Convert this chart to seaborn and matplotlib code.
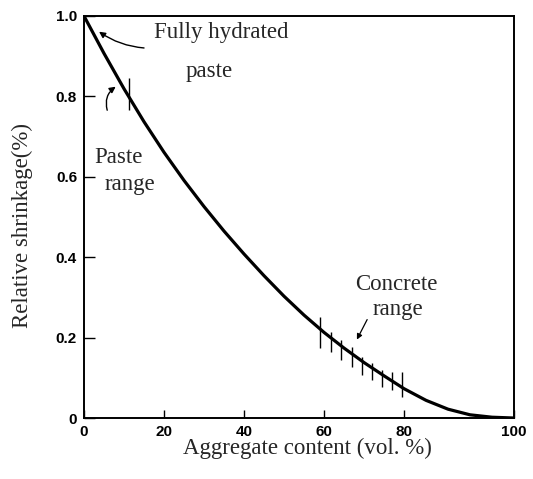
import numpy as np
import pandas as pd
import seaborn as sns
import matplotlib.pyplot as plt

# curve (aggregate vol. % -> relative shrinkage)
aggregate = [0, 5, 10, 15, 20, 25, 30, 35, 40, 45, 50, 55, 60, 65, 70, 75, 80, 84, 88, 92, 96, 100]
shrinkage = [1.000, 0.907, 0.819, 0.737, 0.661, 0.591, 0.526, 0.465, 0.408, 0.354, 0.303, 0.256,
             0.213, 0.174, 0.138, 0.105, 0.073, 0.044, 0.022, 0.008, 0.002, 0.000]

# vertical marks of the concrete range
concrete_x = [59.0, 61.7, 64.2, 66.9, 69.4, 71.9, 74.4, 76.9, 79.6]
concrete_lo = [0.174, 0.164, 0.144, 0.127, 0.107, 0.095, 0.077, 0.070, 0.052]
concrete_hi = [0.251, 0.214, 0.194, 0.177, 0.152, 0.137, 0.119, 0.114, 0.114]

# vertical mark of the paste range
paste_x = [11.2]
paste_lo = [0.766]
paste_hi = [0.846]

x_ticks = [0, 20, 40, 60, 80, 100]
y_ticks = [0, 0.2, 0.4, 0.6, 0.8, 1.0]
y_ticklabels = ['0', '0.2', '0.4', '0.6', '0.8', '1.0']


# the printed axis is stretched between 80 and 100
def fwd(x):
    x = np.asarray(x, dtype=float)
    return np.where(x <= 80, x, 80 + (x - 80) * 1.375)


def inv(s):
    s = np.asarray(s, dtype=float)
    return np.where(s <= 80, s, 80 + (s - 80) / 1.375)


def main():
    sns.set_style('ticks')
    serif = ['Liberation Serif', 'DejaVu Serif']
    sans = ['Liberation Sans', 'DejaVu Sans']

    fig = plt.figure(figsize=(5.33, 4.79), dpi=100)
    ax = fig.add_axes([0.1576, 0.1273, 0.8068, 0.8393])
    ax.set_xscale('function', functions=(fwd, inv))

    df = pd.DataFrame({'aggregate': aggregate, 'shrinkage': shrinkage})
    sns.lineplot(data=df, x='aggregate', y='shrinkage', color='black', lw=2.3, ax=ax)

    ax.vlines(concrete_x, concrete_lo, concrete_hi, color='black', lw=1.0)
    ax.vlines(paste_x, paste_lo, paste_hi, color='black', lw=1.0)

    ax.set_xlim(0, 100)
    ax.set_ylim(0, 1.0)
    ax.set_xticks(x_ticks)
    ax.set_xticklabels([str(t) for t in x_ticks], family=sans, fontweight='bold', fontsize=11)
    ax.set_yticks(y_ticks)
    ax.set_yticklabels(y_ticklabels, family=sans, fontweight='bold', fontsize=11)
    ax.tick_params(axis='x', direction='in', length=6, width=1.0, pad=5, colors='black')
    ax.tick_params(axis='y', direction='in', length=8, width=1.0, pad=5, colors='black')
    for s in ax.spines.values():
        s.set_linewidth(1.4)
        s.set_color('black')

    ax.set_xlabel('Aggregate content (vol. %)', family=serif, fontsize=16.5)
    ax.set_ylabel('Relative shrinkage(%)', family=serif, fontsize=16.5)
    ax.xaxis.set_label_coords(0.519, -0.05)
    ax.yaxis.set_label_coords(-0.118, 0.478)

    # annotations
    fs = 16.5
    ax.text(34.3, 0.958, 'Fully hydrated', family=serif, fontsize=fs, ha='center', va='center')
    ax.text(31.3, 0.861, 'paste', family=serif, fontsize=fs, ha='center', va='center')
    ax.annotate('', xy=(3.2, 0.965), xytext=(15.7, 0.920),
                arrowprops=dict(arrowstyle='-|>', color='black', lw=1.0,
                                mutation_scale=9, connectionstyle='arc3,rad=-0.15'))

    ax.text(8.5, 0.649, 'Paste', family=serif, fontsize=fs, ha='center', va='center')
    ax.text(11.4, 0.580, 'range', family=serif, fontsize=fs, ha='center', va='center')
    ax.annotate('', xy=(8.5, 0.828), xytext=(6.0, 0.759),
                arrowprops=dict(arrowstyle='-|>', color='black', lw=1.0,
                                mutation_scale=9, connectionstyle='arc3,rad=-0.4'))

    ax.text(78.1, 0.331, 'Concrete', family=serif, fontsize=fs, ha='center', va='center')
    ax.text(78.4, 0.269, 'range', family=serif, fontsize=fs, ha='center', va='center')
    ax.annotate('', xy=(67.9, 0.189), xytext=(71.1, 0.251),
                arrowprops=dict(arrowstyle='-|>', color='black', lw=0.9,
                                mutation_scale=8))

    fig.savefig('out.png', dpi=100)


if __name__ == '__main__':
    main()
